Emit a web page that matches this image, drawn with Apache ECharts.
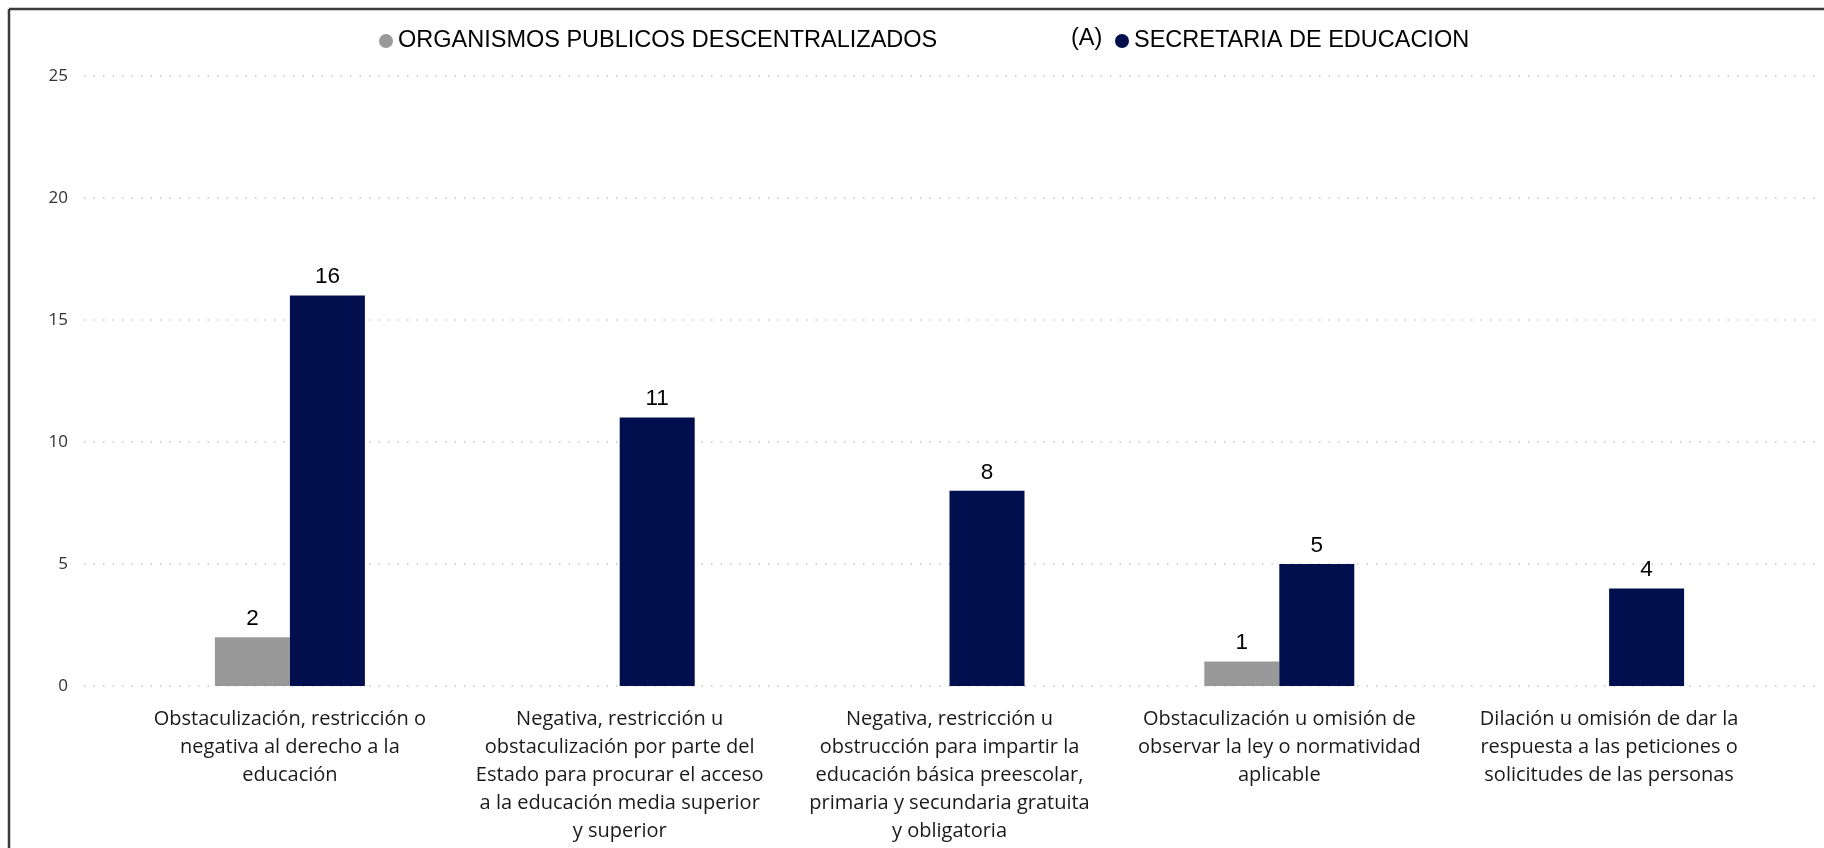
<!DOCTYPE html>
<html>
<head>
<meta charset="utf-8">
<script src="https://cdn.jsdelivr.net/npm/echarts@6/dist/echarts.min.js"></script>
<style>
html,body{margin:0;padding:0;background:#fff;overflow:hidden;}
#chart{width:1824px;height:848px;}
</style>
</head>
<body>
<div id="chart"></div>
<script>
var categories = [
  "Obstaculización, restricción o\nnegativa al derecho a la\neducación",
  "Negativa, restricción u\nobstaculización por parte del\nEstado para procurar el acceso\na la educación media superior\ny superior",
  "Negativa, restricción u\nobstrucción para impartir la\neducación básica preescolar,\nprimaria y secundaria gratuita\ny obligatoria",
  "Obstaculización u omisión de\nobservar la ley o normatividad\naplicable",
  "Dilación u omisión de dar la\nrespuesta a las peticiones o\nsolicitudes de las personas"
];
var seriesNames = ["ORGANISMOS PUBLICOS DESCENTRALIZADOS", "SECRETARIA DE EDUCACION"];
var opdValues = [2, null, null, 1, null];
var sedValues = [16, 11, 8, 5, 4];
var legendPrefix = "(A)";
var yTicks = {min: 0, max: 25, interval: 5};

var chart = echarts.init(document.getElementById('chart'), null, {renderer: 'canvas'});
var labelStyle = {
  show: true, position: 'top', distance: 7,
  fontFamily: 'Liberation Sans, Arial, sans-serif', fontSize: 22.5, color: '#000'
};
var legendText = {fontFamily: 'Liberation Sans, Arial, sans-serif', fontSize: 23.5, color: '#000'};
var option = {
  animation: false,
  backgroundColor: '#fff',
  legend: [
    {data: [seriesNames[0]], left: 374, top: 24, icon: 'circle', itemWidth: 14, itemHeight: 14, textStyle: legendText},
    {data: [seriesNames[1]], left: 1110, top: 24, icon: 'circle', itemWidth: 14, itemHeight: 14, textStyle: legendText}
  ],
  graphic: [
    {type: 'text', x: 1071, y: 39, style: {text: legendPrefix, font: '23.5px "Liberation Sans", Arial, sans-serif', fill: '#000', textVerticalAlign: 'middle', verticalAlign: 'middle'}},
    {type: 'line', shape: {x1: 9, y1: 9, x2: 1824, y2: 9}, style: {stroke: '#3a3a3a', lineWidth: 2.5}},
    {type: 'line', shape: {x1: 9, y1: 9, x2: 9, y2: 848}, style: {stroke: '#3a3a3a', lineWidth: 2.5}}
  ],
  grid: [
    {left: 84, right: 2, top: 76, bottom: 162},
    {left: 125, right: 50, top: 76, bottom: 162}
  ],
  xAxis: [
    {gridIndex: 0, type: 'category', data: categories, show: false},
    {gridIndex: 1, type: 'category', data: categories,
     axisLine: {show: false}, axisTick: {show: false},
     axisLabel: {interval: 0, margin: 19, lineHeight: 28, fontSize: 20,
       fontFamily: 'Open Sans, sans-serif', color: '#1a1a1a'}}
  ],
  yAxis: [
    {gridIndex: 0, type: 'value', min: yTicks.min, max: yTicks.max, interval: yTicks.interval,
     axisLine: {show: false}, axisTick: {show: false},
     axisLabel: {margin: 16, fontSize: 17, fontFamily: 'Open Sans, sans-serif', color: '#333'},
     splitLine: {show: true, lineStyle: {color: '#c4c4c4', width: 1.5, type: [1.5, 8]}}},
    {gridIndex: 1, type: 'value', min: yTicks.min, max: yTicks.max, interval: yTicks.interval,
     show: false, splitLine: {show: false}}
  ],
  series: [
    {name: seriesNames[0], type: 'bar', xAxisIndex: 1, yAxisIndex: 1, data: opdValues,
     barWidth: 75, barGap: '0%', itemStyle: {color: '#999999'}, label: labelStyle},
    {name: seriesNames[1], type: 'bar', xAxisIndex: 1, yAxisIndex: 1, data: sedValues,
     barWidth: 75, barGap: '0%', itemStyle: {color: '#020F4E'}, label: labelStyle}
  ]
};
chart.setOption(option);
</script>
</body>
</html>
